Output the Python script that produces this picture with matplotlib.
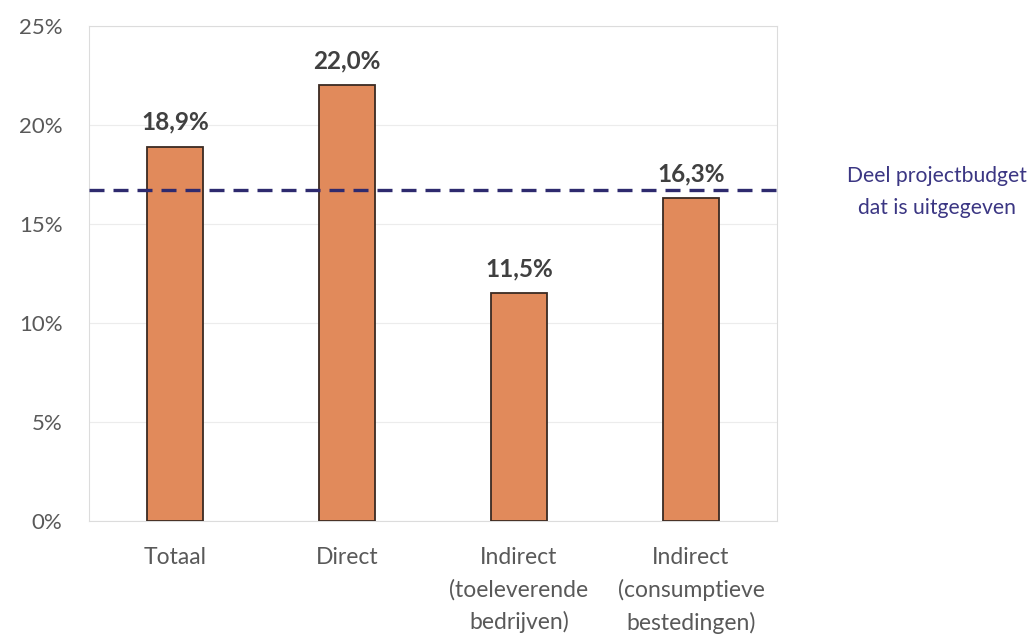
import matplotlib.pyplot as plt
from matplotlib.ticker import FuncFormatter

# data
categories = ['Totaal', 'Direct', 'Indirect\n(toeleverende\nbedrijven)',
              'Indirect\n(consumptieve\nbestedingen)']
values = [18.9, 22.0, 11.5, 16.3]
budget_share = 16.7
budget_label = 'Deel projectbudget\ndat is uitgegeven'

plt.rcParams['font.family'] = ['Lato', 'DejaVu Sans']

fig = plt.figure(figsize=(10.27, 6.36), dpi=100)
ax = fig.add_axes([89 / 1027, 1 - 521 / 636, 688 / 1027, 495 / 636])

x = range(len(categories))
ax.bar(x, values, width=0.32, color='#E18A5B', edgecolor='#3a2a22', linewidth=1.3, zorder=3)

for xi, v in zip(x, values):
    ax.text(xi, v + 0.65, f'{v:.1f}%'.replace('.', ','), ha='center', va='bottom',
            fontsize=17.5, fontweight='bold', color='#404040')

ax.axhline(budget_share, color='#2E2A6E', linewidth=2.4, dashes=(4.5, 2.7), zorder=4)
ax.text(1.232, budget_share / 25 - 0.003, budget_label, transform=ax.transAxes,
        ha='center', va='center', fontsize=15.2, color='#3B3683', linespacing=1.75)

ax.set_xlim(-0.5, 3.5)
ax.set_ylim(0, 25)
ax.set_yticks([0, 5, 10, 15, 20, 25])
ax.yaxis.set_major_formatter(FuncFormatter(lambda v, p: f'{v:.0f}%'))
ax.set_xticks(list(x))
ax.set_xticklabels(categories, linespacing=1.6)
ax.tick_params(axis='both', length=0, labelcolor='#595959')
ax.tick_params(axis='x', pad=19, labelsize=16.5)
ax.tick_params(axis='y', pad=19, labelsize=16)
for lbl in ax.get_xticklabels():
    lbl.set_verticalalignment('top')

ax.grid(axis='y', color='#ececec', linewidth=0.8, zorder=0)
for s in ax.spines.values():
    s.set_color('#dcdcdc')
    s.set_linewidth(0.8)

fig.savefig('out.png', dpi=100)
